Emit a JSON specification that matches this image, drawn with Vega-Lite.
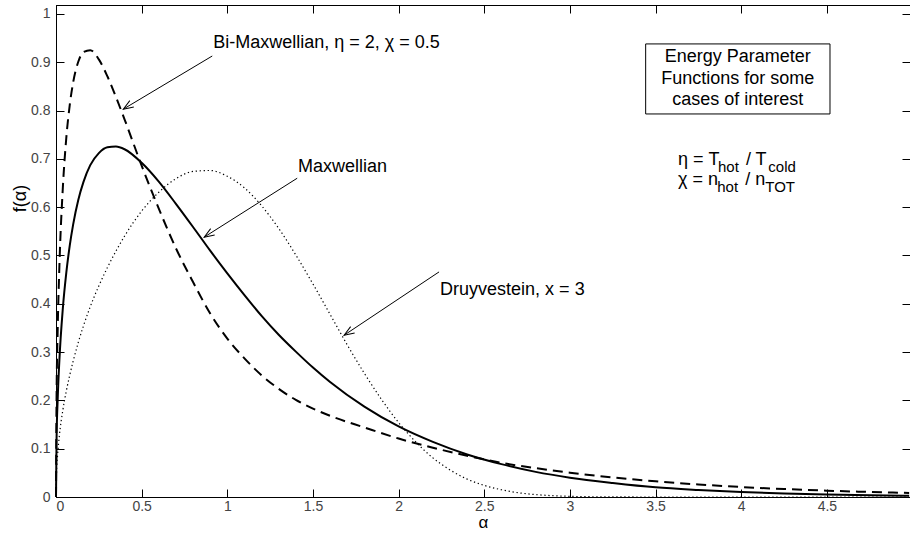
{
  "$schema": "https://vega.github.io/schema/vega-lite/v6.json",
  "width": 854,
  "height": 492,
  "autosize": {"type": "none"},
  "padding": {"left": 56, "top": 5, "right": 0, "bottom": 38},
  "background": "white",
  "config": {
    "view": {"stroke": "black", "strokeWidth": 1},
    "font": "Liberation Sans",
    "axis": {
      "grid": false,
      "domainColor": "black",
      "tickColor": "black",
      "tickWidth": 1,
      "tickSize": -8,
      "labelColor": "#444444",
      "labelFont": "Liberation Sans",
      "labelFontSize": 14,
      "titleFont": "Liberation Sans",
      "titleFontSize": 17,
      "titleFontWeight": "normal",
      "titleColor": "black"
    }
  },
  "datasets": {
    "curves": [
      {"series": "Maxwellian", "x": 0, "y": 0},
      {"series": "Maxwellian", "x": 0.003, "y": 0.113},
      {"series": "Maxwellian", "x": 0.01, "y": 0.204},
      {"series": "Maxwellian", "x": 0.02, "y": 0.285},
      {"series": "Maxwellian", "x": 0.04, "y": 0.391},
      {"series": "Maxwellian", "x": 0.06, "y": 0.464},
      {"series": "Maxwellian", "x": 0.08, "y": 0.52},
      {"series": "Maxwellian", "x": 0.1, "y": 0.564},
      {"series": "Maxwellian", "x": 0.13, "y": 0.615},
      {"series": "Maxwellian", "x": 0.16, "y": 0.652},
      {"series": "Maxwellian", "x": 0.2, "y": 0.687},
      {"series": "Maxwellian", "x": 0.25, "y": 0.712},
      {"series": "Maxwellian", "x": 0.3, "y": 0.724},
      {"series": "Maxwellian", "x": 0.35, "y": 0.7255},
      {"series": "Maxwellian", "x": 0.4, "y": 0.72},
      {"series": "Maxwellian", "x": 0.5, "y": 0.692},
      {"series": "Maxwellian", "x": 0.6, "y": 0.653},
      {"series": "Maxwellian", "x": 0.7, "y": 0.607},
      {"series": "Maxwellian", "x": 0.8, "y": 0.559},
      {"series": "Maxwellian", "x": 0.9, "y": 0.51},
      {"series": "Maxwellian", "x": 1.0, "y": 0.463},
      {"series": "Maxwellian", "x": 1.1, "y": 0.418},
      {"series": "Maxwellian", "x": 1.2, "y": 0.375},
      {"series": "Maxwellian", "x": 1.3, "y": 0.336},
      {"series": "Maxwellian", "x": 1.4, "y": 0.301},
      {"series": "Maxwellian", "x": 1.5, "y": 0.268},
      {"series": "Maxwellian", "x": 1.6, "y": 0.238},
      {"series": "Maxwellian", "x": 1.8, "y": 0.187},
      {"series": "Maxwellian", "x": 2.0, "y": 0.146},
      {"series": "Maxwellian", "x": 2.2, "y": 0.114},
      {"series": "Maxwellian", "x": 2.4, "y": 0.088},
      {"series": "Maxwellian", "x": 2.6, "y": 0.068},
      {"series": "Maxwellian", "x": 2.8, "y": 0.052},
      {"series": "Maxwellian", "x": 3.0, "y": 0.04},
      {"series": "Maxwellian", "x": 3.25, "y": 0.029},
      {"series": "Maxwellian", "x": 3.5, "y": 0.02},
      {"series": "Maxwellian", "x": 3.75, "y": 0.0145},
      {"series": "Maxwellian", "x": 4.0, "y": 0.0103},
      {"series": "Maxwellian", "x": 4.25, "y": 0.0073},
      {"series": "Maxwellian", "x": 4.5, "y": 0.0052},
      {"series": "Maxwellian", "x": 4.75, "y": 0.0037},
      {"series": "Maxwellian", "x": 4.98, "y": 0.0026},
      {"series": "Bi-Maxwellian", "x": 0, "y": 0},
      {"series": "Bi-Maxwellian", "x": 0.003, "y": 0.195},
      {"series": "Bi-Maxwellian", "x": 0.01, "y": 0.349},
      {"series": "Bi-Maxwellian", "x": 0.02, "y": 0.48},
      {"series": "Bi-Maxwellian", "x": 0.04, "y": 0.641},
      {"series": "Bi-Maxwellian", "x": 0.06, "y": 0.743},
      {"series": "Bi-Maxwellian", "x": 0.08, "y": 0.811},
      {"series": "Bi-Maxwellian", "x": 0.1, "y": 0.858},
      {"series": "Bi-Maxwellian", "x": 0.13, "y": 0.901},
      {"series": "Bi-Maxwellian", "x": 0.16, "y": 0.921},
      {"series": "Bi-Maxwellian", "x": 0.2, "y": 0.925},
      {"series": "Bi-Maxwellian", "x": 0.25, "y": 0.906},
      {"series": "Bi-Maxwellian", "x": 0.3, "y": 0.871},
      {"series": "Bi-Maxwellian", "x": 0.35, "y": 0.828},
      {"series": "Bi-Maxwellian", "x": 0.4, "y": 0.782},
      {"series": "Bi-Maxwellian", "x": 0.5, "y": 0.686},
      {"series": "Bi-Maxwellian", "x": 0.6, "y": 0.597},
      {"series": "Bi-Maxwellian", "x": 0.7, "y": 0.515},
      {"series": "Bi-Maxwellian", "x": 0.8, "y": 0.445},
      {"series": "Bi-Maxwellian", "x": 0.9, "y": 0.38},
      {"series": "Bi-Maxwellian", "x": 1.0, "y": 0.328},
      {"series": "Bi-Maxwellian", "x": 1.1, "y": 0.287},
      {"series": "Bi-Maxwellian", "x": 1.2, "y": 0.252},
      {"series": "Bi-Maxwellian", "x": 1.3, "y": 0.224},
      {"series": "Bi-Maxwellian", "x": 1.4, "y": 0.201},
      {"series": "Bi-Maxwellian", "x": 1.5, "y": 0.183},
      {"series": "Bi-Maxwellian", "x": 1.6, "y": 0.168},
      {"series": "Bi-Maxwellian", "x": 1.8, "y": 0.144},
      {"series": "Bi-Maxwellian", "x": 2.0, "y": 0.121},
      {"series": "Bi-Maxwellian", "x": 2.2, "y": 0.102},
      {"series": "Bi-Maxwellian", "x": 2.4, "y": 0.0855},
      {"series": "Bi-Maxwellian", "x": 2.6, "y": 0.0707},
      {"series": "Bi-Maxwellian", "x": 2.8, "y": 0.0597},
      {"series": "Bi-Maxwellian", "x": 3.0, "y": 0.0503},
      {"series": "Bi-Maxwellian", "x": 3.25, "y": 0.0405},
      {"series": "Bi-Maxwellian", "x": 3.5, "y": 0.0324},
      {"series": "Bi-Maxwellian", "x": 3.75, "y": 0.0259},
      {"series": "Bi-Maxwellian", "x": 4.0, "y": 0.0207},
      {"series": "Bi-Maxwellian", "x": 4.25, "y": 0.0165},
      {"series": "Bi-Maxwellian", "x": 4.5, "y": 0.0131},
      {"series": "Bi-Maxwellian", "x": 4.75, "y": 0.0104},
      {"series": "Bi-Maxwellian", "x": 4.98, "y": 0.0083},
      {"series": "Druyvestein", "x": 0, "y": 0},
      {"series": "Druyvestein", "x": 0.003, "y": 0.05},
      {"series": "Druyvestein", "x": 0.01, "y": 0.09},
      {"series": "Druyvestein", "x": 0.02, "y": 0.128},
      {"series": "Druyvestein", "x": 0.04, "y": 0.18},
      {"series": "Druyvestein", "x": 0.06, "y": 0.219},
      {"series": "Druyvestein", "x": 0.08, "y": 0.252},
      {"series": "Druyvestein", "x": 0.1, "y": 0.281},
      {"series": "Druyvestein", "x": 0.13, "y": 0.32},
      {"series": "Druyvestein", "x": 0.16, "y": 0.354},
      {"series": "Druyvestein", "x": 0.2, "y": 0.394},
      {"series": "Druyvestein", "x": 0.25, "y": 0.437},
      {"series": "Druyvestein", "x": 0.3, "y": 0.475},
      {"series": "Druyvestein", "x": 0.35, "y": 0.509},
      {"series": "Druyvestein", "x": 0.4, "y": 0.54},
      {"series": "Druyvestein", "x": 0.5, "y": 0.592},
      {"series": "Druyvestein", "x": 0.6, "y": 0.631},
      {"series": "Druyvestein", "x": 0.7, "y": 0.659},
      {"series": "Druyvestein", "x": 0.8, "y": 0.674},
      {"series": "Druyvestein", "x": 0.9, "y": 0.676},
      {"series": "Druyvestein", "x": 1.0, "y": 0.664},
      {"series": "Druyvestein", "x": 1.1, "y": 0.64},
      {"series": "Druyvestein", "x": 1.2, "y": 0.603},
      {"series": "Druyvestein", "x": 1.3, "y": 0.556},
      {"series": "Druyvestein", "x": 1.4, "y": 0.501},
      {"series": "Druyvestein", "x": 1.5, "y": 0.441},
      {"series": "Druyvestein", "x": 1.6, "y": 0.378},
      {"series": "Druyvestein", "x": 1.7, "y": 0.315},
      {"series": "Druyvestein", "x": 1.8, "y": 0.256},
      {"series": "Druyvestein", "x": 1.9, "y": 0.202},
      {"series": "Druyvestein", "x": 2.0, "y": 0.154},
      {"series": "Druyvestein", "x": 2.1, "y": 0.114},
      {"series": "Druyvestein", "x": 2.2, "y": 0.081},
      {"series": "Druyvestein", "x": 2.3, "y": 0.056},
      {"series": "Druyvestein", "x": 2.4, "y": 0.037},
      {"series": "Druyvestein", "x": 2.5, "y": 0.024},
      {"series": "Druyvestein", "x": 2.6, "y": 0.015},
      {"series": "Druyvestein", "x": 2.7, "y": 0.0087},
      {"series": "Druyvestein", "x": 2.8, "y": 0.005},
      {"series": "Druyvestein", "x": 2.9, "y": 0.0027},
      {"series": "Druyvestein", "x": 3.0, "y": 0.0014},
      {"series": "Druyvestein", "x": 3.25, "y": 0.0002},
      {"series": "Druyvestein", "x": 3.5, "y": 0},
      {"series": "Druyvestein", "x": 4.0, "y": 0},
      {"series": "Druyvestein", "x": 4.5, "y": 0},
      {"series": "Druyvestein", "x": 4.98, "y": 0}
    ],
    "notes": [
      {"x": 0.918, "y": 0.939, "text": "Bi-Maxwellian, η = 2, χ = 0.5"},
      {"x": 1.413, "y": 0.684, "text": "Maxwellian"},
      {"x": 2.242, "y": 0.4286, "text": "Druyvestein, x = 3"}
    ],
    "arrows": [
      {"x": 0.912, "y": 0.913, "x2": 0.393, "y2": 0.803},
      {"x": 1.408, "y": 0.66, "x2": 0.865, "y2": 0.538},
      {"x": 2.236, "y": 0.466, "x2": 1.682, "y2": 0.335}
    ],
    "box": [
      {"x": 3.442, "y": 0.793, "x2": 4.518, "y2": 0.938}
    ],
    "boxtext": [
      {"x": 3.98, "y": 0.911, "text": "Energy Parameter"},
      {"x": 3.98, "y": 0.8654, "text": "Functions for some"},
      {"x": 3.98, "y": 0.822, "text": "cases of interest"}
    ],
    "formula": [
      {"x": 3.631, "y": 0.698, "text": "η = T"},
      {"x": 4.027, "y": 0.698, "text": "/ T"},
      {"x": 3.631, "y": 0.656, "text": "χ = n"},
      {"x": 4.024, "y": 0.656, "text": "/ n"}
    ],
    "subs": [
      {"x": 3.864, "y": 0.683, "text": "hot"},
      {"x": 4.158, "y": 0.683, "text": "cold"},
      {"x": 3.86, "y": 0.641, "text": "hot"},
      {"x": 4.14, "y": 0.641, "text": "TOT"}
    ]
  },
  "encoding": {
    "x": {"field": "x", "type": "quantitative", "scale": {"domain": [0, 4.985], "nice": false, "zero": false}, "axis": null},
    "y": {"field": "y", "type": "quantitative", "scale": {"domain": [0, 1.0186], "nice": false, "zero": false}, "axis": null}
  },
  "layer": [
    {
      "data": {"name": "curves"},
      "transform": [{"filter": "datum.series === 'Maxwellian'"}],
      "mark": {"type": "line", "color": "black", "strokeWidth": 2, "interpolate": "monotone"},
      "encoding": {
        "x": {
          "field": "x", "type": "quantitative",
          "scale": {"domain": [0, 4.985], "nice": false, "zero": false},
          "axis": {"orient": "bottom", "values": [0, 0.5, 1, 1.5, 2, 2.5, 3, 3.5, 4, 4.5], "format": "~g", "title": "α", "labelPadding": 10, "titleY": 30, "titleBaseline": "alphabetic"}
        },
        "y": {
          "field": "y", "type": "quantitative",
          "scale": {"domain": [0, 1.0186], "nice": false, "zero": false},
          "axis": {"orient": "left", "values": [0, 0.1, 0.2, 0.3, 0.4, 0.5, 0.6, 0.7, 0.8, 0.9, 1], "format": "~g", "title": "f(α)", "labelPadding": 14, "titleX": -36, "titleY": 193, "titleAngle": 270, "titleBaseline": "middle", "titleAlign": "center", "titleFontSize": 18}
        }
      }
    },
    {
      "data": {"name": "curves"},
      "transform": [{"filter": "datum.series === 'Bi-Maxwellian'"}],
      "mark": {"type": "line", "color": "black", "strokeWidth": 2, "strokeDash": [10, 6], "interpolate": "monotone"},
      "encoding": {
        "x": {
          "field": "x", "type": "quantitative",
          "scale": {"domain": [0, 4.985], "nice": false, "zero": false},
          "axis": {"orient": "top", "values": [0, 0.5, 1, 1.5, 2, 2.5, 3, 3.5, 4, 4.5], "labels": false, "title": null}
        },
        "y": {
          "field": "y", "type": "quantitative",
          "scale": {"domain": [0, 1.0186], "nice": false, "zero": false},
          "axis": {"orient": "right", "values": [0, 0.1, 0.2, 0.3, 0.4, 0.5, 0.6, 0.7, 0.8, 0.9, 1], "labels": false, "title": null}
        }
      }
    },
    {
      "data": {"name": "curves"},
      "transform": [{"filter": "datum.series === 'Druyvestein'"}],
      "mark": {"type": "line", "color": "black", "strokeWidth": 1.2, "strokeDash": [1.3, 2.7], "interpolate": "monotone"}
    },
    {
      "data": {"name": "arrows"},
      "mark": {"type": "rule", "color": "black", "strokeWidth": 1},
      "encoding": {
        "x2": {"field": "x2"},
        "y2": {"field": "y2"}
      }
    },
    {
      "data": {"name": "arrows"},
      "mark": {"type": "point", "shape": "M -1 -0.38 L 0 0 L -1 0.38", "filled": false, "stroke": "black", "strokeWidth": 1, "size": 400, "angle": 148, "opacity": 1},
      "encoding": {
        "x": {"field": "x2", "type": "quantitative", "scale": {"domain": [0, 4.985], "nice": false, "zero": false}, "axis": null},
        "y": {"field": "y2", "type": "quantitative", "scale": {"domain": [0, 1.0186], "nice": false, "zero": false}, "axis": null}
      }
    },
    {
      "data": {"name": "notes"},
      "mark": {"type": "text", "align": "left", "baseline": "middle", "fontSize": 18, "font": "Liberation Sans", "color": "black"},
      "encoding": {"text": {"field": "text"}}
    },
    {
      "data": {"name": "box"},
      "mark": {"type": "rect", "fill": "white", "stroke": "black", "strokeWidth": 1},
      "encoding": {
        "x2": {"field": "x2"},
        "y2": {"field": "y2"}
      }
    },
    {
      "data": {"name": "boxtext"},
      "mark": {"type": "text", "align": "center", "baseline": "middle", "fontSize": 18, "font": "Liberation Sans", "color": "black"},
      "encoding": {"text": {"field": "text"}}
    },
    {
      "data": {"name": "formula"},
      "mark": {"type": "text", "align": "left", "baseline": "middle", "fontSize": 18, "font": "Liberation Sans", "color": "black"},
      "encoding": {"text": {"field": "text"}}
    },
    {
      "data": {"name": "subs"},
      "mark": {"type": "text", "align": "left", "baseline": "middle", "fontSize": 15, "font": "Liberation Sans", "color": "black"},
      "encoding": {"text": {"field": "text"}}
    }
  ],
  "resolve": {"axis": {"x": "independent", "y": "independent"}}
}
